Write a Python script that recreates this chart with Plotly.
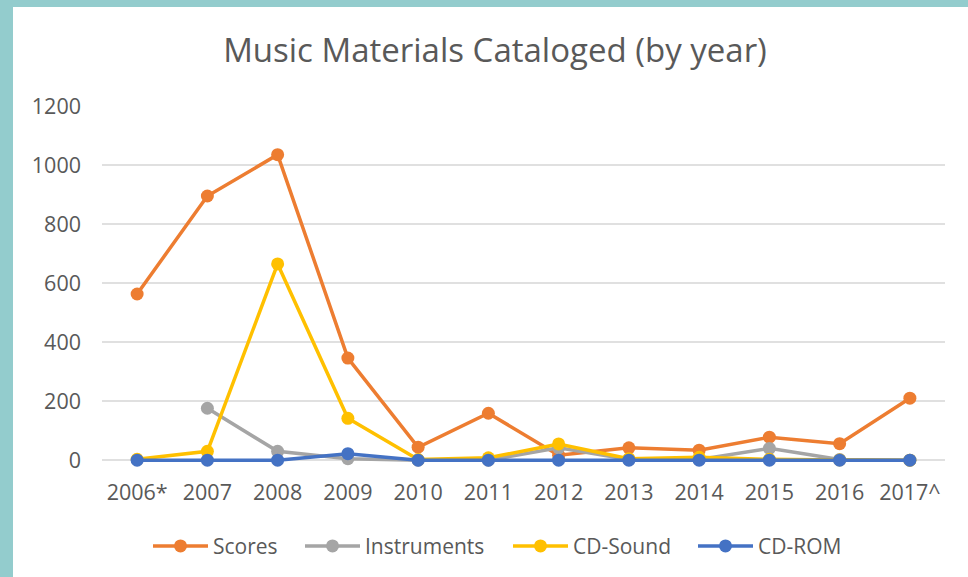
import plotly.graph_objects as go

years = ["2006*", "2007", "2008", "2009", "2010", "2011", "2012", "2013", "2014", "2015", "2016", "2017^"]
scores = [563, 895, 1035, 346, 44, 159, 17, 42, 34, 78, 56, 210]
instruments = [None, 176, 30, 5, 0, 0, 42, 2, 2, 40, 2, 0]
cd_sound = [3, 30, 665, 142, 2, 8, 55, 5, 10, 3, 1, 0]
cd_rom = [0, 0, 0, 22, 0, 0, 0, 0, 0, 0, 0, 0]
y_ticks = [0, 200, 400, 600, 800, 1000, 1200]

series = [
    ("Scores", scores, "#ED7D31"),
    ("Instruments", instruments, "#A5A5A5"),
    ("CD-Sound", cd_sound, "#FFC000"),
    ("CD-ROM", cd_rom, "#4472C4"),
]
legend_left_px = [153, 305, 513, 698]

W, H = 968, 577
X_LEFT, X_RIGHT = 102, 945
Y_ZERO, Y_TOP = 460, 106
Y_MIN = -40  # small extension below zero so the zero lines are not clipped
ppu = (Y_ZERO - Y_TOP) / 1200.0
y_bottom_px = Y_ZERO - Y_MIN * ppu

L, R, T, B = X_LEFT, W - X_RIGHT, Y_TOP, H - y_bottom_px
pw, ph = W - L - R, H - T - B

def px_x(p):
    return (p - L) / pw

def px_y(p):
    return (H - B - p) / ph

font = "Open Sans, DejaVu Sans, sans-serif"

fig = go.Figure()
legend_layout = {}
for i, (name, vals, col) in enumerate(series):
    key = "legend" if i == 0 else f"legend{i + 1}"
    fig.add_trace(go.Scatter(
        x=years, y=vals, name=name, mode="lines+markers",
        line=dict(color=col, width=3.5),
        marker=dict(color=col, size=13),
        cliponaxis=False, legend=key,
    ))
    legend_layout[key] = dict(
        orientation="h", x=px_x(legend_left_px[i] - 5), xanchor="left", xref="paper",
        y=px_y(546), yanchor="middle", font=dict(family=font, size=21, color="#595959"),
        itemwidth=55, bgcolor="rgba(0,0,0,0)",
    )

fig.update_layout(
    width=W, height=H,
    margin=dict(l=L, r=R, t=T, b=B, autoexpand=False),
    paper_bgcolor="white", plot_bgcolor="white",
    title=dict(text="Music Materials Cataloged (by year)", x=495 / W, xanchor="center",
               xref="container", y=1 - 50 / H, yanchor="middle", yref="container",
               font=dict(family=font, size=33, color="#595959")),
    font=dict(family=font, color="#595959"),
    xaxis=dict(type="category", range=[-0.5, len(years) - 0.5], autorange=False,
               showgrid=False, showline=False, zeroline=False,
               ticks="", ticklabelstandoff=5, tickfont=dict(size=21.5, color="#595959")),
    yaxis=dict(range=[Y_MIN, 1200], autorange=False, tickvals=y_ticks, showgrid=True,
               gridcolor="#E0E0E0", gridwidth=1.5, zeroline=False, showline=False, ticks="",
               ticklabelstandoff=20, tickfont=dict(size=21.5, color="#595959")),
    showlegend=True,
    **legend_layout,
)

fig.add_shape(type="rect", xref="paper", yref="paper",
              x0=px_x(0), x1=px_x(13), y0=px_y(H), y1=px_y(0),
              fillcolor="#93CCCD", line=dict(width=0), layer="below")
fig.add_shape(type="rect", xref="paper", yref="paper",
              x0=px_x(0), x1=px_x(W), y0=px_y(7), y1=px_y(0),
              fillcolor="#93CCCD", line=dict(width=0), layer="below")

fig.write_html("out.html", config={"displayModeBar": False},
               post_script="document.body.style.margin='0';document.body.style.overflow='hidden';")
